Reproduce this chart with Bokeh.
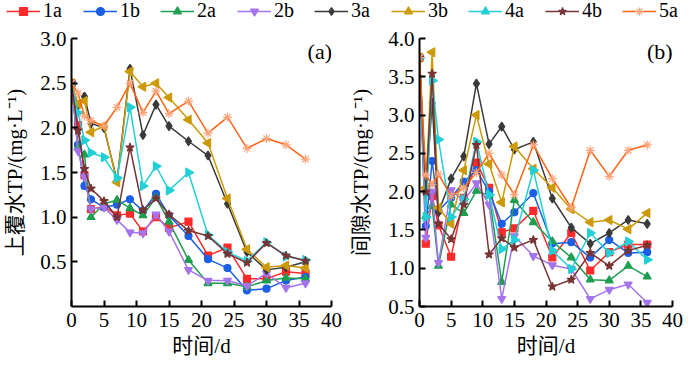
import numpy as np
from bokeh.plotting import figure
from bokeh.models import (Range1d, FixedTicker, NumeralTickFormatter, Legend,
                          LegendItem, Label, ColumnDataSource)
from bokeh.layouts import column, row
from bokeh.embed import file_html
from bokeh.resources import INLINE

# ---------------- data ----------------
days = [0, 1, 2, 3, 5, 7, 9, 11, 13, 15, 18, 21, 24, 27, 30, 33, 36]
names = ["1a", "1b", "2a", "2b", "3a", "3b", "4a", "4b", "5a"]

a_1a = [2.50, 2.03, 1.47, 1.09, 1.12, 1.02, 1.04, 0.84, 1.00, 0.88, 0.95, 0.57, 0.66, 0.31, 0.31, 0.39, 0.37]
a_1b = [2.50, 1.81, 1.35, 1.20, 1.11, 1.14, 1.20, 1.07, 1.26, 1.02, 0.79, 0.53, 0.43, 0.18, 0.20, 0.29, 0.33]
a_2a = [2.50, 1.78, 1.70, 1.00, 1.15, 1.19, 1.10, 1.02, 1.22, 0.95, 0.52, 0.26, 0.26, 0.22, 0.29, 0.32, 0.31]
a_2b = [2.50, 1.74, 1.45, 1.09, 1.11, 0.97, 0.83, 0.82, 1.03, 0.84, 0.41, 0.29, 0.29, 0.23, 0.37, 0.21, 0.26]
a_3a = [2.50, 2.25, 2.35, 2.05, 2.00, 1.41, 2.66, 1.92, 2.26, 2.02, 1.85, 1.69, 1.15, 0.61, 0.41, 0.44, 0.50]
a_3b = [2.50, 2.27, 2.30, 1.95, 2.02, 1.39, 2.63, 2.46, 2.50, 2.34, 2.09, 1.83, 1.21, 0.64, 0.44, 0.46, 0.43]
a_4a = [2.50, 2.17, 1.86, 1.72, 1.67, 1.44, 2.23, 1.35, 1.57, 1.30, 1.50, 0.80, 0.61, 0.51, 0.72, 0.56, 0.52]
a_4b = [2.50, 1.97, 1.54, 1.32, 1.18, 1.00, 1.78, 1.08, 1.21, 1.03, 0.85, 0.79, 0.59, 0.49, 0.71, 0.57, 0.51]
a_5a = [2.50, 2.39, 2.13, 2.08, 2.02, 2.23, 2.50, 2.17, 2.41, 2.16, 2.30, 1.94, 2.12, 1.77, 1.88, 1.81, 1.65]

b_1a = [3.75, 1.32, 1.94, 1.56, 1.15, 1.92, 2.38, 2.05, 1.47, 1.52, 1.75, 1.14, 1.46, 0.97, 1.21, 1.31, 1.31]
b_1b = [3.75, 1.55, 2.40, 1.75, 1.92, 2.13, 2.28, 2.00, 1.58, 1.73, 1.98, 1.32, 1.34, 1.14, 1.37, 1.20, 1.21]
b_2a = [3.75, 1.68, 1.81, 1.03, 1.83, 1.72, 2.01, 1.95, 0.82, 1.89, 1.60, 1.35, 1.14, 0.85, 0.84, 1.03, 0.89]
b_2b = [3.75, 1.40, 2.00, 1.07, 2.02, 1.88, 2.11, 1.83, 0.60, 1.42, 1.16, 1.04, 0.99, 0.60, 0.72, 0.79, 0.55]
b_3a = [3.75, 1.98, 3.16, 1.73, 2.17, 2.46, 3.41, 2.62, 2.85, 2.55, 2.65, 1.91, 1.53, 1.32, 1.46, 1.63, 1.58]
b_3b = [3.75, 2.05, 3.82, 1.79, 1.58, 2.28, 3.00, 2.36, 1.86, 2.59, 2.30, 2.05, 1.77, 1.60, 1.63, 1.51, 1.72]
b_4a = [3.75, 1.67, 3.45, 2.68, 1.67, 1.90, 2.65, 1.96, 1.25, 1.37, 2.28, 1.23, 0.99, 1.46, 1.20, 1.35, 1.11]
b_4b = [3.75, 2.00, 3.54, 1.58, 1.38, 1.83, 2.61, 1.18, 1.39, 1.27, 1.37, 0.76, 0.85, 1.20, 1.03, 1.23, 1.30]
b_5a = [3.75, 2.22, 2.09, 2.23, 1.94, 2.05, 2.25, 2.50, 2.22, 1.96, 2.61, 2.17, 1.79, 2.54, 2.20, 2.54, 2.61]

x_ticks = [0, 5, 10, 15, 20, 25, 30, 35, 40]
a_yticks = [0.5, 1.0, 1.5, 2.0, 2.5, 3.0]
b_yticks = [0.5, 1.0, 1.5, 2.0, 2.5, 3.0, 3.5, 4.0]

a_data = [a_1a, a_1b, a_2a, a_2b, a_3a, a_3b, a_4a, a_4b, a_5a]
b_data = [b_1a, b_1b, b_2a, b_2b, b_3a, b_3b, b_4a, b_4b, b_5a]

# ---------------- styles ----------------
line_colors = ["#FF2B2B", "#1A5FE6", "#1E9E50", "#A474EC", "#3A3A3A",
               "#CC9A08", "#22CFD6", "#783434", "#FF6414"]
fill_colors = ["#FF2B2B", "#1A5FE6", "#1E9E50", "#A474EC", "#3A3A3A",
               "#CC9A08", "#22CFD6", "#783434", "#FFA47A"]
markers = ["square", "circle", "triangle", "inverted_triangle", "diamond",
           "triangle", "triangle", "star", "asterisk"]
angles = [0, 0, 0, 0, 0, np.pi / 2, -np.pi / 2, 0, 0]
sizes = [7, 7, 8, 8, 9, 9, 9, 9, 9]

SERIF = "Liberation Serif"
LABELF = "'Liberation Serif', 'Noto Sans CJK SC'"


def add_series(p, xs, ys, i):
    src = ColumnDataSource(dict(x=xs, y=ys))
    r1 = p.line("x", "y", source=src, line_color=line_colors[i], line_width=1.5)
    r2 = p.scatter("x", "y", source=src, marker=markers[i], size=sizes[i],
                   angle=angles[i], fill_color=fill_colors[i],
                   line_color=fill_colors[i], line_width=1.2)
    return r1, r2


def make_panel(data, yr, yticks, ylabel, tag, tag_xy, width, mbl, mbr, lab_standoff):
    p = figure(width=width, height=338, x_range=Range1d(0, 40), y_range=Range1d(*yr),
               output_backend="svg", toolbar_location=None,
               min_border_left=mbl, min_border_right=mbr,
               min_border_top=16, min_border_bottom=54)
    p.outline_line_color = None
    p.grid.visible = False
    p.background_fill_color = "white"
    p.border_fill_color = "white"
    for i, ys in enumerate(data):
        add_series(p, days, ys, i)
    for ax in (p.xaxis[0], p.yaxis[0]):
        ax.axis_line_width = 2
        ax.axis_line_color = "black"
        ax.major_tick_in = 6
        ax.major_tick_out = 0
        ax.major_tick_line_width = 2
        ax.minor_tick_line_color = None
        ax.major_label_text_font = SERIF
        ax.major_label_text_font_size = "21px"
        ax.major_label_text_color = "black"
        ax.axis_label_text_font = LABELF
        ax.axis_label_text_font_size = "21px"
        ax.axis_label_text_font_style = "normal"
        ax.axis_label_text_color = "black"
    p.xaxis.ticker = FixedTicker(ticks=x_ticks)
    p.yaxis.ticker = FixedTicker(ticks=yticks)
    p.yaxis.formatter = NumeralTickFormatter(format="0.0")
    p.xaxis.major_label_standoff = 6
    p.yaxis.major_label_standoff = 5
    p.xaxis.axis_label = "时间/d"
    p.xaxis.axis_label_standoff = 4
    p.yaxis.axis_label = ylabel
    p.yaxis.axis_label_standoff = lab_standoff
    p.add_layout(Label(x=tag_xy[0], y=tag_xy[1], text=tag, text_align="center",
                       text_baseline="middle", text_font=SERIF,
                       text_font_size="22px", text_color="black"))
    return p


pa = make_panel(a_data, (0, 3.0), a_yticks, "上覆水TP/(mg·L⁻¹)", "(a)", (38.2, 2.85),
                344, 70, 13, 10)
pb = make_panel(b_data, (0.5, 4.0), b_yticks, "间隙水TP/(mg·L⁻¹)", "(b)", (38.0, 3.83),
                340, 75, 12, 12)

# ---------------- legend strip ----------------
# legend renderers reuse the series values but sit outside this strip's ranges
leg = figure(width=684, height=22, x_range=Range1d(100, 101), y_range=Range1d(100, 101),
             output_backend="svg", toolbar_location=None, min_border=0,
             x_axis_location=None, y_axis_location=None)
leg.outline_line_color = None
leg.grid.visible = False
items = []
for i, nm in enumerate(names):
    r1, r2 = add_series(leg, days, a_data[i], i)
    items.append(LegendItem(label=nm, renderers=[r1, r2]))
legend = Legend(items=items, orientation="horizontal", location=(6, 0),
                glyph_width=34, glyph_height=20, label_height=20, label_standoff=3,
                spacing=20, padding=0, margin=0, border_line_color=None,
                background_fill_alpha=0, label_text_font=SERIF,
                label_text_font_size="20px", label_text_color="black")
leg.add_layout(legend, "center")

layout = column(leg, row(pa, pb))
open("out.html", "w").write(file_html(layout, INLINE))
